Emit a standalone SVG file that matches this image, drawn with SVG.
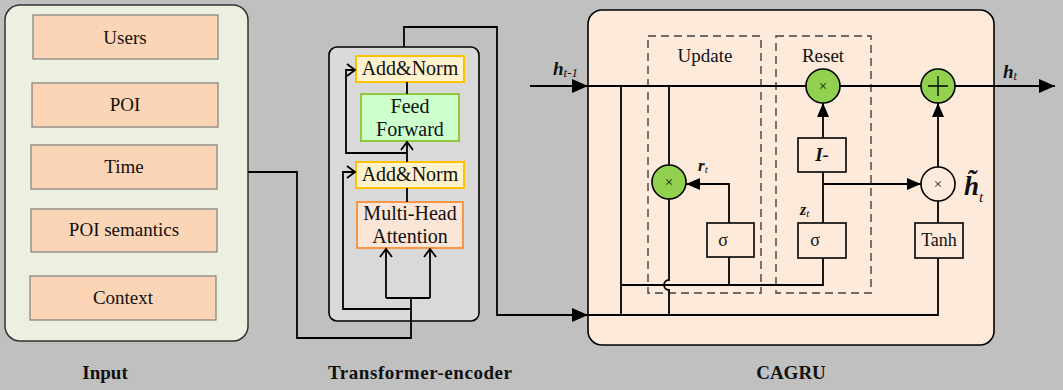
<svg xmlns="http://www.w3.org/2000/svg" width="1063" height="390" viewBox="0 0 1063 390">
<defs>
<style>
.t{font-family:"Liberation Serif","Times New Roman",serif;fill:#111;text-anchor:middle}
.lbl{font-family:"Liberation Serif","Times New Roman",serif;font-weight:bold;fill:#111;text-anchor:middle;font-size:19px}
.ib{fill:#fbd5b5;stroke:#7f7f7f;stroke-width:1.2}
.an{fill:#fff2cc;stroke:#ffc000;stroke-width:2}
.ln{fill:none;stroke:#000;stroke-width:1.8}
.bx{fill:#fdeada;stroke:#000;stroke-width:1.6}
.gc{fill:#92d050;stroke:#000;stroke-width:1.6}
.wc{fill:#fdeada;stroke:#000;stroke-width:1.6}
.dash{fill:none;stroke:#404040;stroke-width:1.4;stroke-dasharray:8,5}
.bi{font-family:"Liberation Serif","Times New Roman",serif;font-weight:bold;font-style:italic;fill:#111}
</style>
<marker id="fa" markerUnits="userSpaceOnUse" markerWidth="18" markerHeight="16" refX="16" refY="7" orient="auto"><path d="M0,0 L16,7 L0,14 Z" fill="#000"/></marker>
<marker id="fs" markerUnits="userSpaceOnUse" markerWidth="16" markerHeight="14" refX="14" refY="6" orient="auto"><path d="M0,0 L14,6 L0,12 Z" fill="#000"/></marker>
<marker id="oa" markerUnits="userSpaceOnUse" markerWidth="12" markerHeight="14" refX="9" refY="7" orient="auto"><path d="M1,1 L9,7 L1,13" fill="none" stroke="#000" stroke-width="1.8"/></marker>
</defs>
<rect width="1063" height="390" fill="#c0c0c0"/>

<g id="input">
<rect x="5" y="5" width="243" height="336" rx="15" fill="#ebf1de" stroke="#333" stroke-width="1.5"/>
<g id="users"><rect class="ib" x="33" y="15" width="185" height="44"/><text class="t" x="125" y="44" font-size="19">Users</text></g>
<g id="poi"><rect class="ib" x="32" y="83" width="186" height="44"/><text class="t" x="125" y="111" font-size="19">POI</text></g>
<g id="time"><rect class="ib" x="31" y="145" width="186" height="44"/><text class="t" x="124" y="173" font-size="19">Time</text></g>
<g id="poisem"><rect class="ib" x="31" y="209" width="186" height="43"/><text class="t" x="124" y="236" font-size="19">POI semantics</text></g>
<g id="context"><rect class="ib" x="30" y="276" width="186" height="44"/><text class="t" x="123" y="304" font-size="19">Context</text></g>
</g>

<g id="transformer">
<rect x="329" y="47" width="150" height="274" rx="8" fill="#d9d9d9" stroke="#000" stroke-width="1.6"/>
<g id="addnorm2"><rect class="an" x="356" y="56" width="108" height="26"/><text class="t" x="410" y="75" font-size="20">Add&amp;Norm</text></g>
<g id="ff"><rect x="361" y="94" width="98" height="47" fill="#ccffcc" stroke="#92c83e" stroke-width="2"/><text class="t" x="410" y="113" font-size="20">Feed</text><text class="t" x="410" y="136" font-size="20">Forward</text></g>
<g id="addnorm1"><rect class="an" x="356" y="162" width="108" height="26"/><text class="t" x="410" y="181" font-size="20">Add&amp;Norm</text></g>
<g id="mha"><rect x="357" y="202" width="106" height="46" fill="#fbe5d6" stroke="#f79646" stroke-width="2"/><text class="t" x="410" y="220" font-size="20">Multi-Head</text><text class="t" x="410" y="243" font-size="20">Attention</text></g>
</g>

<g id="cagru">
<rect x="588" y="10" width="406" height="335" rx="14" fill="#fdeada" stroke="#000" stroke-width="1.6"/>
<rect class="dash" x="648" y="36" width="113" height="257"/>
<rect class="dash" x="776" y="36" width="95" height="257"/>
<text class="t" x="705" y="62" font-size="19">Update</text>
<text class="t" x="823" y="62" font-size="19">Reset</text>
</g>

<g id="connectors">
<path class="ln" d="M248,172 H297 V338 H411 V298"/>
<path class="ln" d="M386,298 H430"/>
<path class="ln" d="M386,298 V249" marker-end="url(#oa)"/>
<path class="ln" d="M430,298 V249" marker-end="url(#oa)"/>
<path class="ln" d="M411,309 H343 V172 H355" marker-end="url(#oa)"/>
<path class="ln" d="M407,202 V188"/>
<path class="ln" d="M407,162 V142" marker-end="url(#oa)"/>
<path class="ln" d="M407,153 H346 V70 H355" marker-end="url(#oa)"/>
<path class="ln" d="M407,94 V82"/>
<path class="ln" d="M404,47 V27 H497 V315 H588" marker-end="url(#fa)"/>

<path class="ln" d="M530,86 H588" marker-end="url(#fa)"/>
<path class="ln" d="M588,86 H806"/>
<path class="ln" d="M840,86 H921"/>
<path class="ln" d="M955,86 H1055" marker-end="url(#fa)"/>
<path class="ln" d="M621,86 V315"/>
<path class="ln" d="M588,315 H938 V258"/>
<path class="ln" d="M621,285 H823 V258"/>
<path class="ln" d="M729,285 V257"/>
<path class="ln" d="M669,86 V165"/>
<path class="ln" d="M669,199 V280 A5,5 0 0,0 669,290 V315"/>
<path class="ln" d="M729,223 V184 H686" marker-end="url(#fs)"/>
<path class="ln" d="M823,138 V103" marker-end="url(#fs)"/>
<path class="ln" d="M823,172 V223"/>
<path class="ln" d="M823,184 H921" marker-end="url(#fs)"/>
<path class="ln" d="M938,223 V201"/>
<path class="ln" d="M938,167 V103" marker-end="url(#fs)"/>
</g>

<g id="mul_r"><circle class="gc" cx="669" cy="182" r="17"/><text class="t" x="669" y="187" font-size="15">×</text></g>
<g id="sigma_r"><rect class="bx" x="707" y="223" width="47" height="34"/><text class="t" x="723" y="246" font-size="18">σ</text></g>
<g id="mul_reset"><circle class="gc" cx="823" cy="86" r="17"/><text class="t" x="823" y="91" font-size="15">×</text></g>
<g id="iminus"><rect class="bx" x="798" y="138" width="48" height="34"/><text class="bi" x="822" y="161" font-size="19" text-anchor="middle">I-</text></g>
<g id="sigma_z"><rect class="bx" x="798" y="223" width="48" height="35"/><text class="t" x="815" y="246" font-size="18">σ</text></g>
<g id="plus"><circle class="gc" cx="938" cy="86" r="17"/><path d="M928,86 H948 M938,76 V96" stroke="#000" stroke-width="1.3"/></g>
<g id="mul_h"><circle class="wc" cx="938" cy="184" r="17"/><text class="t" x="938" y="189" font-size="15">×</text></g>
<g id="tanh"><rect class="bx" x="915" y="223" width="48" height="35"/><text class="t" x="939" y="246" font-size="18">Tanh</text></g>

<text class="bi" x="553" y="75" font-size="19">h<tspan font-size="13" font-weight="normal" dy="2">t-1</tspan></text>
<text class="bi" x="1003" y="78" font-size="19">h<tspan font-size="12" font-weight="normal" dy="2">t</tspan></text>
<text class="bi" x="698" y="171" font-size="17">r<tspan font-size="11" font-weight="normal" dy="2">t</tspan></text>
<text class="bi" x="800" y="215" font-size="16">z<tspan font-size="11" font-weight="normal" dy="2">t</tspan></text>
<text class="bi" x="964" y="195" font-size="27">h&#771;<tspan font-size="15" font-weight="normal" dy="7">t</tspan></text>

<text class="lbl" x="105" y="379">Input</text>
<text class="lbl" x="420" y="379" textLength="184" lengthAdjust="spacing">Transformer-encoder</text>
<text class="lbl" x="791" y="379">CAGRU</text>
</svg>
